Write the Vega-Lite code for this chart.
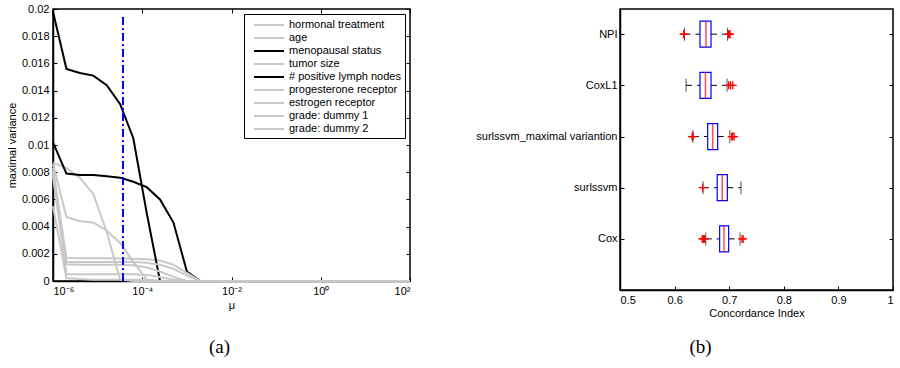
{
  "$schema": "https://vega.github.io/schema/vega-lite/v6.json",
  "background": "white",
  "padding": {"left": 5, "top": 2, "right": 5, "bottom": 5},
  "config": {
    "font": "Liberation Sans",
    "view": {"stroke": "black", "strokeWidth": 1.5},
    "axis": {"domainColor": "black", "domainWidth": 1.5, "tickColor": "black", "tickWidth": 1, "tickSize": -4, "labelPadding": 8, "labelColor": "black", "labelFont": "Liberation Sans", "labelFontSize": 11, "titleFont": "Liberation Sans", "titleFontSize": 11, "titleFontWeight": "normal", "titleColor": "black", "grid": false},
    "legend": {"padding": 4, "strokeColor": "black", "fillColor": "white", "symbolStrokeWidth": 2, "labelFont": "Liberation Sans", "labelFontSize": 11, "labelColor": "black", "labelLimit": 300, "rowPadding": 1}
  },
  "datasets": {
    "paths": [
      {"series": "hormonal treatment", "mu": 1e-6, "value": 0.0087},
      {"series": "hormonal treatment", "mu": 2e-6, "value": 0.0083},
      {"series": "hormonal treatment", "mu": 4e-6, "value": 0.0076},
      {"series": "hormonal treatment", "mu": 8e-6, "value": 0.0064},
      {"series": "hormonal treatment", "mu": 1.6e-5, "value": 0.0036},
      {"series": "hormonal treatment", "mu": 3.2e-5, "value": 0.0001},
      {"series": "hormonal treatment", "mu": 6.3e-5, "value": 0},
      {"series": "hormonal treatment", "mu": 100, "value": 0},
      {"series": "age", "mu": 1e-6, "value": 0.0086},
      {"series": "age", "mu": 2e-6, "value": 0.0047},
      {"series": "age", "mu": 4e-6, "value": 0.0044},
      {"series": "age", "mu": 8e-6, "value": 0.0043},
      {"series": "age", "mu": 1.6e-5, "value": 0.0037},
      {"series": "age", "mu": 3.2e-5, "value": 0.0028},
      {"series": "age", "mu": 6.3e-5, "value": 0.0014},
      {"series": "age", "mu": 1.26e-4, "value": 0.0001},
      {"series": "age", "mu": 2.5e-4, "value": 0},
      {"series": "age", "mu": 100, "value": 0},
      {"series": "menopausal status", "mu": 1e-6, "value": 0.0102},
      {"series": "menopausal status", "mu": 2e-6, "value": 0.0079},
      {"series": "menopausal status", "mu": 4e-6, "value": 0.0078},
      {"series": "menopausal status", "mu": 8e-6, "value": 0.0078},
      {"series": "menopausal status", "mu": 1.6e-5, "value": 0.0077},
      {"series": "menopausal status", "mu": 3.2e-5, "value": 0.0076},
      {"series": "menopausal status", "mu": 6.3e-5, "value": 0.0073},
      {"series": "menopausal status", "mu": 1.26e-4, "value": 0.0069},
      {"series": "menopausal status", "mu": 2.5e-4, "value": 0.006},
      {"series": "menopausal status", "mu": 5e-4, "value": 0.0043},
      {"series": "menopausal status", "mu": 1e-3, "value": 0.0007},
      {"series": "menopausal status", "mu": 2e-3, "value": 0},
      {"series": "menopausal status", "mu": 100, "value": 0},
      {"series": "tumor size", "mu": 1e-6, "value": 0.0083},
      {"series": "tumor size", "mu": 2e-6, "value": 0.0017},
      {"series": "tumor size", "mu": 4e-6, "value": 0.00168},
      {"series": "tumor size", "mu": 8e-6, "value": 0.00168},
      {"series": "tumor size", "mu": 1.6e-5, "value": 0.00167},
      {"series": "tumor size", "mu": 3.2e-5, "value": 0.00166},
      {"series": "tumor size", "mu": 6.3e-5, "value": 0.00164},
      {"series": "tumor size", "mu": 1.26e-4, "value": 0.0016},
      {"series": "tumor size", "mu": 2.5e-4, "value": 0.0015},
      {"series": "tumor size", "mu": 5e-4, "value": 0.0012},
      {"series": "tumor size", "mu": 1e-3, "value": 0.0006},
      {"series": "tumor size", "mu": 2e-3, "value": 0},
      {"series": "tumor size", "mu": 100, "value": 0},
      {"series": "# positive lymph nodes", "mu": 1e-6, "value": 0.0198},
      {"series": "# positive lymph nodes", "mu": 2e-6, "value": 0.0156},
      {"series": "# positive lymph nodes", "mu": 4e-6, "value": 0.0153},
      {"series": "# positive lymph nodes", "mu": 8e-6, "value": 0.0151},
      {"series": "# positive lymph nodes", "mu": 1.6e-5, "value": 0.0144},
      {"series": "# positive lymph nodes", "mu": 3.2e-5, "value": 0.013},
      {"series": "# positive lymph nodes", "mu": 6.3e-5, "value": 0.0105},
      {"series": "# positive lymph nodes", "mu": 1.26e-4, "value": 0.005},
      {"series": "# positive lymph nodes", "mu": 2.5e-4, "value": 0},
      {"series": "# positive lymph nodes", "mu": 100, "value": 0},
      {"series": "progesterone receptor", "mu": 1e-6, "value": 0.0081},
      {"series": "progesterone receptor", "mu": 2e-6, "value": 0.00142},
      {"series": "progesterone receptor", "mu": 4e-6, "value": 0.0014},
      {"series": "progesterone receptor", "mu": 8e-6, "value": 0.0014},
      {"series": "progesterone receptor", "mu": 1.6e-5, "value": 0.0014},
      {"series": "progesterone receptor", "mu": 3.2e-5, "value": 0.0014},
      {"series": "progesterone receptor", "mu": 6.3e-5, "value": 0.0014},
      {"series": "progesterone receptor", "mu": 1.26e-4, "value": 0.00135},
      {"series": "progesterone receptor", "mu": 2.5e-4, "value": 0.0012},
      {"series": "progesterone receptor", "mu": 5e-4, "value": 0.0009},
      {"series": "progesterone receptor", "mu": 1e-3, "value": 0.0004},
      {"series": "progesterone receptor", "mu": 2e-3, "value": 0},
      {"series": "progesterone receptor", "mu": 100, "value": 0},
      {"series": "estrogen receptor", "mu": 1e-6, "value": 0.0079},
      {"series": "estrogen receptor", "mu": 2e-6, "value": 0.00123},
      {"series": "estrogen receptor", "mu": 4e-6, "value": 0.0012},
      {"series": "estrogen receptor", "mu": 8e-6, "value": 0.0012},
      {"series": "estrogen receptor", "mu": 1.6e-5, "value": 0.0012},
      {"series": "estrogen receptor", "mu": 3.2e-5, "value": 0.0012},
      {"series": "estrogen receptor", "mu": 6.3e-5, "value": 0.00115},
      {"series": "estrogen receptor", "mu": 1.26e-4, "value": 0.001},
      {"series": "estrogen receptor", "mu": 2.5e-4, "value": 0.0007},
      {"series": "estrogen receptor", "mu": 5e-4, "value": 0.0003},
      {"series": "estrogen receptor", "mu": 1e-3, "value": 0},
      {"series": "estrogen receptor", "mu": 100, "value": 0},
      {"series": "grade: dummy 1", "mu": 1e-6, "value": 0.0077},
      {"series": "grade: dummy 1", "mu": 2e-6, "value": 0.0005},
      {"series": "grade: dummy 1", "mu": 4e-6, "value": 0.0005},
      {"series": "grade: dummy 1", "mu": 8e-6, "value": 0.0005},
      {"series": "grade: dummy 1", "mu": 1.6e-5, "value": 0.0005},
      {"series": "grade: dummy 1", "mu": 3.2e-5, "value": 0.0005},
      {"series": "grade: dummy 1", "mu": 6.3e-5, "value": 0.0005},
      {"series": "grade: dummy 1", "mu": 1.26e-4, "value": 0.00045},
      {"series": "grade: dummy 1", "mu": 2.5e-4, "value": 0.0003},
      {"series": "grade: dummy 1", "mu": 5e-4, "value": 0.0001},
      {"series": "grade: dummy 1", "mu": 1e-3, "value": 0},
      {"series": "grade: dummy 1", "mu": 100, "value": 0},
      {"series": "grade: dummy 2", "mu": 1e-6, "value": 0.0055},
      {"series": "grade: dummy 2", "mu": 2e-6, "value": 0.0002},
      {"series": "grade: dummy 2", "mu": 4e-6, "value": 0.00015},
      {"series": "grade: dummy 2", "mu": 8e-6, "value": 0.0001},
      {"series": "grade: dummy 2", "mu": 1.6e-5, "value": 0.0001},
      {"series": "grade: dummy 2", "mu": 3.2e-5, "value": 0.0001},
      {"series": "grade: dummy 2", "mu": 6.3e-5, "value": 0.0001},
      {"series": "grade: dummy 2", "mu": 1.26e-4, "value": 0.0001},
      {"series": "grade: dummy 2", "mu": 2.5e-4, "value": 0},
      {"series": "grade: dummy 2", "mu": 100, "value": 0}
    ],
    "marker": [{"mu": 3.7e-5, "lo": 0, "hi": 0.0195}],
    "boxes": [
      {"model": "NPI", "lower": 0.618, "q1": 0.6465, "median": 0.6575, "q3": 0.6667, "upper": 0.697},
      {"model": "CoxL1", "lower": 0.621, "q1": 0.6465, "median": 0.6565, "q3": 0.6667, "upper": 0.696},
      {"model": "surlssvm_maximal variantion", "lower": 0.6335, "q1": 0.6606, "median": 0.6697, "q3": 0.6789, "upper": 0.7012},
      {"model": "surlssvm", "lower": 0.652, "q1": 0.678, "median": 0.6873, "q3": 0.6966, "upper": 0.7216},
      {"model": "Cox", "lower": 0.657, "q1": 0.6825, "median": 0.6905, "q3": 0.699, "upper": 0.7198}
    ],
    "outliers": [
      {"model": "NPI", "ci": 0.6165},
      {"model": "NPI", "ci": 0.6175},
      {"model": "NPI", "ci": 0.699},
      {"model": "NPI", "ci": 0.7005},
      {"model": "NPI", "ci": 0.7015},
      {"model": "CoxL1", "ci": 0.699},
      {"model": "CoxL1", "ci": 0.7025},
      {"model": "CoxL1", "ci": 0.7065},
      {"model": "surlssvm_maximal variantion", "ci": 0.632},
      {"model": "surlssvm_maximal variantion", "ci": 0.634},
      {"model": "surlssvm_maximal variantion", "ci": 0.7045},
      {"model": "surlssvm_maximal variantion", "ci": 0.7065},
      {"model": "surlssvm_maximal variantion", "ci": 0.709},
      {"model": "surlssvm", "ci": 0.6515},
      {"model": "Cox", "ci": 0.6505},
      {"model": "Cox", "ci": 0.653},
      {"model": "Cox", "ci": 0.655},
      {"model": "Cox", "ci": 0.7235},
      {"model": "Cox", "ci": 0.7255}
    ]
  },
  "bounds": "flush",
  "align": "each",
  "spacing": 210,
  "resolve": {"scale": {"color": "independent"}, "legend": {"color": "independent"}},
  "hconcat": [
    {
      "width": 357,
      "height": 272,
      "title": {"text": "(a)", "orient": "bottom", "anchor": "middle", "frame": "group", "dx": -12, "font": "Liberation Serif", "fontSize": 19, "fontWeight": "normal", "color": "black", "offset": 28},
      "resolve": {"axis": {"x": "independent", "y": "independent"}},
      "layer": [
        {
          "data": {"name": "paths"},
          "mark": {"type": "line", "strokeWidth": 2},
          "encoding": {
            "x": {"field": "mu", "type": "quantitative", "scale": {"type": "log", "domain": [1e-6, 100], "nice": false},
                  "axis": {"title": "μ", "titlePadding": 3, "values": [1e-6, 1e-4, 0.01, 1, 100],
                           "labelExpr": "datum.value < 1e-5 ? '10⁻⁶' : datum.value < 1e-3 ? '10⁻⁴' : datum.value < 0.1 ? '10⁻²' : datum.value < 10 ? '10⁰' : '10²'"}},
            "y": {"field": "value", "type": "quantitative", "scale": {"domain": [0, 0.02], "nice": false},
                  "axis": {"title": "maximal variance", "titlePadding": 4, "values": [0, 0.002, 0.004, 0.006, 0.008, 0.01, 0.012, 0.014, 0.016, 0.018, 0.02], "format": "~g"}},
            "color": {"field": "series", "type": "nominal",
                      "scale": {"domain": ["hormonal treatment", "age", "menopausal status", "tumor size", "# positive lymph nodes", "progesterone receptor", "estrogen receptor", "grade: dummy 1", "grade: dummy 2"],
                                "range": ["#c8c8c8", "#c8c8c8", "#000000", "#c8c8c8", "#000000", "#c8c8c8", "#c8c8c8", "#c8c8c8", "#c8c8c8"]},
                      "legend": {"title": null, "orient": "top-right", "offset": 5, "symbolType": "M-2.5,0L2.5,0", "symbolSize": 144, "symbolOffset": 14, "labelOffset": 13}}
          }
        },
        {
          "data": {"name": "marker"},
          "mark": {"type": "rule", "color": "#0000ff", "strokeWidth": 2, "strokeDash": [8, 3, 2, 3]},
          "encoding": {
            "x": {"field": "mu", "type": "quantitative", "scale": {"type": "log", "domain": [1e-6, 100], "nice": false},
                  "axis": {"orient": "top", "labels": false, "title": null, "domain": false, "values": [1e-6, 1e-4, 0.01, 1, 100]}},
            "y": {"field": "lo", "type": "quantitative", "scale": {"domain": [0, 0.02], "nice": false},
                  "axis": {"orient": "right", "labels": false, "title": null, "domain": false, "values": [0, 0.002, 0.004, 0.006, 0.008, 0.01, 0.012, 0.014, 0.016, 0.018, 0.02]}},
            "y2": {"field": "hi"}
          }
        }
      ]
    },
    {
      "width": 273,
      "height": 281,
      "title": {"text": "(b)", "orient": "bottom", "anchor": "middle", "frame": "group", "dx": -56, "font": "Liberation Serif", "fontSize": 19, "fontWeight": "normal", "color": "black", "offset": 20},
      "resolve": {"axis": {"y": "independent"}},
      "layer": [
        {
          "data": {"name": "boxes"},
          "mark": {"type": "rule", "color": "black", "strokeWidth": 1, "strokeDash": [6, 5]},
          "encoding": {
            "x": {"field": "lower", "type": "quantitative", "title": "Concordance Index", "scale": {"domain": [0.5, 1], "nice": false},
                  "axis": {"values": [0.5, 0.6, 0.7, 0.8, 0.9, 1], "format": "~g", "titlePadding": 2, "labelPadding": 8}},
            "x2": {"field": "q1"},
            "y": {"field": "model", "type": "nominal", "scale": {"type": "point", "domain": ["NPI", "CoxL1", "surlssvm_maximal variantion", "surlssvm", "Cox"], "padding": 0.745, "align": 0.33},
                  "axis": {"title": null, "labelPadding": 7}}
          }
        },
        {
          "data": {"name": "boxes"},
          "mark": {"type": "rule", "color": "black", "strokeWidth": 1, "strokeDash": [6, 5]},
          "encoding": {
            "x": {"field": "q3", "type": "quantitative", "title": "Concordance Index", "scale": {"domain": [0.5, 1], "nice": false}},
            "x2": {"field": "upper"},
            "y": {"field": "model", "type": "nominal", "scale": {"type": "point", "domain": ["NPI", "CoxL1", "surlssvm_maximal variantion", "surlssvm", "Cox"], "padding": 0.745, "align": 0.33}, "axis": null}
          }
        },
        {
          "data": {"name": "boxes"},
          "mark": {"type": "tick", "color": "black", "size": 13, "thickness": 1},
          "encoding": {
            "x": {"field": "lower", "type": "quantitative", "title": "Concordance Index", "scale": {"domain": [0.5, 1], "nice": false}},
            "y": {"field": "model", "type": "nominal", "scale": {"type": "point", "domain": ["NPI", "CoxL1", "surlssvm_maximal variantion", "surlssvm", "Cox"], "padding": 0.745, "align": 0.33}, "axis": null}
          }
        },
        {
          "data": {"name": "boxes"},
          "mark": {"type": "tick", "color": "black", "size": 13, "thickness": 1},
          "encoding": {
            "x": {"field": "upper", "type": "quantitative", "title": "Concordance Index", "scale": {"domain": [0.5, 1], "nice": false}},
            "y": {"field": "model", "type": "nominal", "scale": {"type": "point", "domain": ["NPI", "CoxL1", "surlssvm_maximal variantion", "surlssvm", "Cox"], "padding": 0.745, "align": 0.33}, "axis": null}
          }
        },
        {
          "data": {"name": "boxes"},
          "mark": {"type": "bar", "size": 26, "fill": "white", "fillOpacity": 0, "stroke": "#0000ff", "strokeWidth": 1.2},
          "encoding": {
            "x": {"field": "q1", "type": "quantitative", "title": "Concordance Index", "scale": {"domain": [0.5, 1], "nice": false}},
            "x2": {"field": "q3"},
            "y": {"field": "model", "type": "nominal", "scale": {"type": "point", "domain": ["NPI", "CoxL1", "surlssvm_maximal variantion", "surlssvm", "Cox"], "padding": 0.745, "align": 0.33}, "axis": null}
          }
        },
        {
          "data": {"name": "boxes"},
          "mark": {"type": "tick", "color": "#ff0000", "size": 26, "thickness": 1.5},
          "encoding": {
            "x": {"field": "median", "type": "quantitative", "title": "Concordance Index", "scale": {"domain": [0.5, 1], "nice": false}},
            "y": {"field": "model", "type": "nominal", "scale": {"type": "point", "domain": ["NPI", "CoxL1", "surlssvm_maximal variantion", "surlssvm", "Cox"], "padding": 0.745, "align": 0.33}, "axis": null}
          }
        },
        {
          "data": {"name": "outliers"},
          "mark": {"type": "point", "shape": "M-1,0L1,0M0,-1L0,1", "filled": false, "stroke": "#ff0000", "strokeWidth": 1.3, "size": 64, "opacity": 1},
          "encoding": {
            "x": {"field": "ci", "type": "quantitative", "title": "Concordance Index", "scale": {"domain": [0.5, 1], "nice": false}},
            "y": {"field": "model", "type": "nominal", "scale": {"type": "point", "domain": ["NPI", "CoxL1", "surlssvm_maximal variantion", "surlssvm", "Cox"], "padding": 0.745, "align": 0.33},
                  "axis": {"orient": "right", "labels": false, "title": null, "domain": false}}
          }
        }
      ]
    }
  ]
}
